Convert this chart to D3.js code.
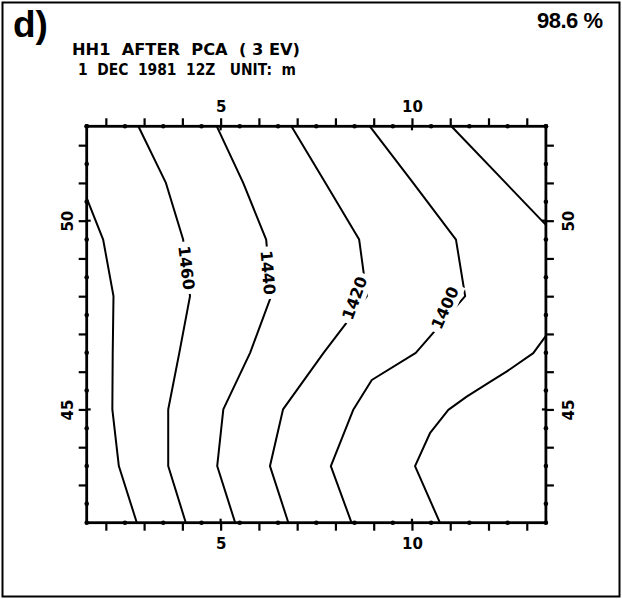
<!DOCTYPE html>
<html>
<head>
<meta charset="utf-8">
<script src="https://cdn.jsdelivr.net/npm/d3@7"></script>
<style>
  body { margin: 0; background: #fff; }
  svg { display: block; }
  text { fill: #000; }
</style>
</head>
<body>
<svg id="chart" width="622" height="599"></svg>
<script>
// Grid-index axis (x) and latitude axis (y)
const xDomain = [1.5, 13.5];
const yDomain = [42, 52.5];
const xLabelTicks = [5, 10];
const yLabelTicks = [45, 50];

// Contour lines of HH1 height (m), vertices as [x, y]
const c1480 = [[1.5, 50.6], [1.93, 49.5], [2.2, 48], [2.18, 46.5], [2.17, 45], [2.34, 43.5], [2.81, 42]];
const c1460 = [[2.85, 52.5], [3.57, 51], [4.02, 49.5], [4.2, 48], [3.92, 46.5], [3.63, 45], [3.63, 43.5], [4.09, 42]];
const c1440 = [[4.9, 52.5], [5.59, 51], [6.19, 49.5], [6.32, 48], [5.77, 46.5], [5.07, 45], [4.91, 43.5], [5.38, 42]];
const c1420 = [[6.85, 52.5], [7.74, 51], [8.62, 49.5], [8.82, 48], [7.69, 46.5], [6.63, 45], [6.29, 43.5], [6.77, 42]];
const c1400 = [[8.9, 52.5], [10.03, 51], [11.15, 49.5], [11.39, 48], [10.1, 46.5], [8.95, 45.78], [8.47, 45], [7.88, 43.5], [8.42, 42]];
const c1380a = [[11.03, 52.5], [13.5, 49.89]];
const c1380b = [[13.5, 46.95], [13.17, 46.49], [12.47, 46.0], [12.04, 45.73], [11.43, 45.34], [10.95, 44.99], [10.47, 44.37], [10.08, 43.5], [10.73, 42]];

const contours = [
  { level: 1480, pts: c1480 },
  { level: 1460, pts: c1460 },
  { level: 1440, pts: c1440 },
  { level: 1420, pts: c1420 },
  { level: 1400, pts: c1400 },
  { level: 1380, pts: c1380a },
  { level: 1380, pts: c1380b }
];

// In-line labels: level, anchor on the line, text angle
const contourLabels = [
  { level: 1460, at: [4.11, 48.75], angle: 83 },
  { level: 1440, at: [6.24, 48.62], angle: 85 },
  { level: 1420, at: [8.5, 47.95], angle: -70 },
  { level: 1400, at: [10.86, 47.69], angle: -66 }
];

const svg = d3.select("#chart");
const W = 622, H = 599;
const plot = { left: 86.7, right: 545.9, top: 126.3, bottom: 522.7 };

const x = d3.scaleLinear().domain(xDomain).range([plot.left, plot.right]);
const y = d3.scaleLinear().domain(yDomain).range([plot.bottom, plot.top]);

// outer frame
svg.append("rect")
  .attr("x", 2.5).attr("y", 2.5).attr("width", W - 5).attr("height", H - 5)
  .attr("fill", "none").attr("stroke", "#000").attr("stroke-width", 2);

// headings
svg.append("text").attr("x", 13).attr("y", 37)
  .style("font-family", "'Liberation Sans', Arial, sans-serif").style("font-weight", "bold")
  .style("font-size", "37px").text("d)");
svg.append("text").attr("x", 537).attr("y", 28)
  .style("font-family", "'Liberation Sans', Arial, sans-serif").style("font-weight", "bold")
  .style("font-size", "22px").style("letter-spacing", "-0.5px")
  .text("98.6 %");
svg.append("text").attr("x", 72).attr("y", 55)
  .style("font-family", "'DejaVu Sans', sans-serif").style("font-weight", "bold")
  .style("font-size", "16px").attr("textLength", 228).attr("lengthAdjust", "spacingAndGlyphs")
  .attr("xml:space", "preserve")
  .text("HH1  AFTER  PCA  ( 3 EV)");
svg.append("text").attr("x", 78).attr("y", 75)
  .style("font-family", "'DejaVu Sans', sans-serif").style("font-weight", "bold")
  .style("font-size", "16px").attr("textLength", 218).attr("lengthAdjust", "spacingAndGlyphs")
  .attr("xml:space", "preserve")
  .text("1  DEC  1981  12Z   UNIT:  m");

// contour lines
const line = d3.line().x(d => x(d[0])).y(d => y(d[1]));
svg.append("g").selectAll("path").data(contours).join("path")
  .attr("d", d => line(d.pts))
  .attr("fill", "none").attr("stroke", "#000").attr("stroke-width", 2)
  .attr("stroke-linejoin", "round");

// contour labels with a white gap behind
const lab = svg.append("g").selectAll("g").data(contourLabels).join("g")
  .attr("transform", d => `translate(${x(d.at[0])},${y(d.at[1])}) rotate(${d.angle})`);
lab.append("rect").attr("fill", "#fff");
lab.append("text")
  .attr("text-anchor", "middle").attr("dy", "0.36em")
  .style("font-family", "'DejaVu Sans', sans-serif").style("font-weight", "bold")
  .style("font-size", "16px")
  .text(d => d.level);
lab.each(function () {
  const g = d3.select(this);
  const b = g.select("text").node().getBBox();
  g.select("rect").attr("x", b.x - 4).attr("y", b.y - 1)
    .attr("width", b.width + 8).attr("height", b.height + 2);
});

// axes
const intX = d3.range(2, 14);
const intY = d3.range(43, 53);
const halfX = d3.range(3, 28).map(v => v / 2).filter(v => v % 1 !== 0);
const halfY = d3.range(84, 106).map(v => v / 2).filter(v => v % 1 !== 0);
const fmt = list => d => list.includes(d) ? d : "";
const tickLen = 8;

function styleAxis(g) {
  g.select(".domain").remove();
  g.selectAll(".tick line").attr("stroke", "#000").attr("stroke-width", 2.2);
  g.selectAll(".tick text")
    .style("font-family", "'DejaVu Sans', sans-serif").style("font-weight", "bold")
    .style("font-size", "15px").attr("fill", "#000");
}

svg.append("g").attr("transform", `translate(0,${plot.top})`)
  .call(d3.axisTop(x).tickValues(intX).tickSizeInner(tickLen).tickSizeOuter(0).tickPadding(6).tickFormat(fmt(xLabelTicks)))
  .call(styleAxis);
svg.append("g").attr("transform", `translate(0,${plot.bottom})`)
  .call(d3.axisBottom(x).tickValues(intX).tickSizeInner(tickLen).tickSizeOuter(0).tickPadding(8).tickFormat(fmt(xLabelTicks)))
  .call(styleAxis);

const left = svg.append("g").attr("transform", `translate(${plot.left},0)`)
  .call(d3.axisLeft(y).tickValues(intY).tickSizeInner(tickLen).tickSizeOuter(0).tickFormat(fmt(yLabelTicks)))
  .call(styleAxis);
left.selectAll(".tick text")
  .attr("x", 0).attr("y", -14).attr("dy", 0).attr("text-anchor", "middle")
  .attr("transform", "rotate(-90)");

const right = svg.append("g").attr("transform", `translate(${plot.right},0)`)
  .call(d3.axisRight(y).tickValues(intY).tickSizeInner(tickLen).tickSizeOuter(0).tickFormat(fmt(yLabelTicks)))
  .call(styleAxis);
right.selectAll(".tick text")
  .attr("x", 0).attr("y", 28).attr("dy", 0).attr("text-anchor", "middle")
  .attr("transform", "rotate(-90)");

// labelled ticks cross into the plot a little
const cross = svg.append("g").attr("stroke", "#000").attr("stroke-width", 2.2);
xLabelTicks.forEach(v => {
  cross.append("line").attr("x1", x(v)).attr("x2", x(v)).attr("y1", plot.top).attr("y2", plot.top + 4);
  cross.append("line").attr("x1", x(v)).attr("x2", x(v)).attr("y1", plot.bottom).attr("y2", plot.bottom - 4);
});
yLabelTicks.forEach(v => {
  cross.append("line").attr("y1", y(v)).attr("y2", y(v)).attr("x1", plot.left).attr("x2", plot.left + 4);
  cross.append("line").attr("y1", y(v)).attr("y2", y(v)).attr("x1", plot.right).attr("x2", plot.right - 4);
});

// plot frame
svg.append("rect")
  .attr("x", plot.left).attr("y", plot.top)
  .attr("width", plot.right - plot.left).attr("height", plot.bottom - plot.top)
  .attr("fill", "none").attr("stroke", "#000").attr("stroke-width", 2.8);

// half-step markers on every side
const dots = svg.append("g").attr("fill", "#000");
halfX.forEach(v => {
  dots.append("circle").attr("cx", x(v)).attr("cy", plot.top).attr("r", 2.3);
  dots.append("circle").attr("cx", x(v)).attr("cy", plot.bottom).attr("r", 2.3);
});
halfY.forEach(v => {
  dots.append("circle").attr("cx", plot.left).attr("cy", y(v)).attr("r", 2.3);
  dots.append("circle").attr("cx", plot.right).attr("cy", y(v)).attr("r", 2.3);
});
</script>
</body>
</html>
